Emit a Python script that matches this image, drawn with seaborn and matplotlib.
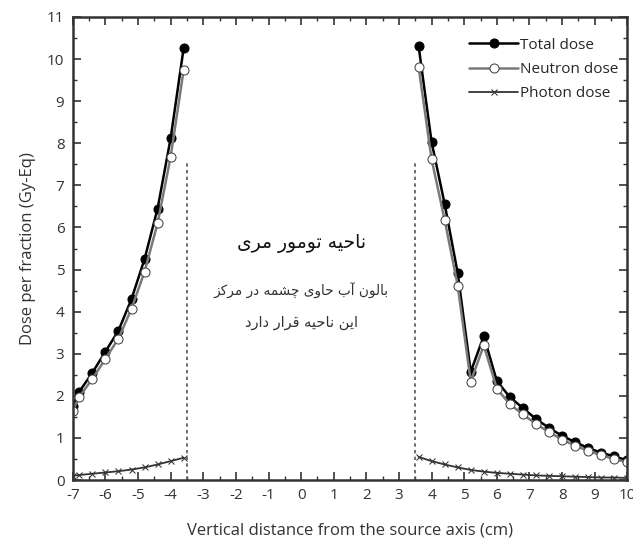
import numpy as np
import pandas as pd
import matplotlib
matplotlib.use("Agg")
import matplotlib.pyplot as plt
import seaborn as sns
from matplotlib.ticker import MultipleLocator

# left side of the tumour region
x_left = [-7.0, -6.8, -6.4, -6.0, -5.6, -5.2, -4.8, -4.4, -4.0, -3.6]
total_left = [1.75, 2.1, 2.55, 3.05, 3.55, 4.3, 5.25, 6.45, 8.12, 10.27]
neutron_left = [1.65, 1.98, 2.4, 2.88, 3.36, 4.07, 4.95, 6.1, 7.68, 9.75]
photon_left = [0.1, 0.12, 0.15, 0.18, 0.21, 0.25, 0.3, 0.37, 0.45, 0.53]

# right side
x_right = [3.6, 4.0, 4.4, 4.8, 5.2, 5.6, 6.0, 6.4, 6.8, 7.2, 7.6, 8.0, 8.4, 8.8, 9.2, 9.6, 10.0]
total_right = [10.32, 8.03, 6.56, 4.92, 2.57, 3.42, 2.35, 1.97, 1.71, 1.45, 1.24, 1.05, 0.9, 0.76, 0.65, 0.56, 0.47]
neutron_right = [9.82, 7.62, 6.18, 4.62, 2.34, 3.2, 2.17, 1.8, 1.56, 1.33, 1.14, 0.96, 0.82, 0.69, 0.59, 0.5, 0.42]
photon_right = [0.55, 0.45, 0.37, 0.3, 0.24, 0.2, 0.17, 0.15, 0.13, 0.11, 0.1, 0.09, 0.08, 0.07, 0.06, 0.06, 0.05]

boundary = [-3.5, 3.5]
boundary_top = 7.6

label_lines = ["ناحیه تومور مری", "بالون آب حاوی چشمه در مرکز", "این ناحیه قرار دارد"]

# Arabic presentation forms: isolated, final, initial, medial
FORMS = {
    "ا": ("\uFE8D", "\uFE8E", None, None),
    "آ": ("\uFE81", "\uFE82", None, None),
    "ب": ("\uFE8F", "\uFE90", "\uFE91", "\uFE92"),
    "ت": ("\uFE95", "\uFE96", "\uFE97", "\uFE98"),
    "ج": ("\uFE9D", "\uFE9E", "\uFE9F", "\uFEA0"),
    "ح": ("\uFEA1", "\uFEA2", "\uFEA3", "\uFEA4"),
    "د": ("\uFEA9", "\uFEAA", None, None),
    "ر": ("\uFEAD", "\uFEAE", None, None),
    "ز": ("\uFEAF", "\uFEB0", None, None),
    "ش": ("\uFEB5", "\uFEB6", "\uFEB7", "\uFEB8"),
    "ق": ("\uFED5", "\uFED6", "\uFED7", "\uFED8"),
    "ل": ("\uFEDD", "\uFEDE", "\uFEDF", "\uFEE0"),
    "م": ("\uFEE1", "\uFEE2", "\uFEE3", "\uFEE4"),
    "ن": ("\uFEE5", "\uFEE6", "\uFEE7", "\uFEE8"),
    "ه": ("\uFEE9", "\uFEEA", "\uFEEB", "\uFEEC"),
    "و": ("\uFEED", "\uFEEE", None, None),
    "ی": ("\uFBFC", "\uFBFD", "\uFBFE", "\uFBFF"),
    "چ": ("\uFB7A", "\uFB7B", "\uFB7C", "\uFB7D"),
    "ک": ("\uFB8E", "\uFB8F", "\uFB90", "\uFB91"),
}


def shape(text):
    out = []
    for i, ch in enumerate(text):
        if ch not in FORMS:
            out.append(ch)
            continue
        prev = text[i - 1] if i > 0 else ""
        nxt = text[i + 1] if i + 1 < len(text) else ""
        join_prev = prev in FORMS and FORMS[prev][2] is not None
        join_next = FORMS[ch][2] is not None and nxt in FORMS
        iso, fin, ini, med = FORMS[ch]
        if join_prev and join_next:
            out.append(med)
        elif join_prev:
            out.append(fin)
        elif join_next:
            out.append(ini)
        else:
            out.append(iso)
    return "".join(out)[::-1]


sns.set_style("ticks")
plt.rcParams["font.family"] = ["Open Sans", "DejaVu Sans"]
plt.rcParams["axes.unicode_minus"] = False

fig = plt.figure(figsize=(6.33, 5.48), dpi=100)
ax = fig.add_axes([0.115, 0.124, 0.876, 0.845])

series = [
    ("Total dose", total_left, total_right, dict(color="black", marker="o", markersize=6.5,
                                                  markerfacecolor="black", markeredgecolor="black", lw=1.8)),
    ("Neutron dose", neutron_left, neutron_right, dict(color="#7a7a7a", marker="o", markersize=6.5,
                                                      markerfacecolor="white", markeredgecolor="#444444", lw=1.8)),
    ("Photon dose", photon_left, photon_right, dict(color="#333333", marker="x", markersize=4,
                                                   markeredgecolor="#333333", lw=1.3)),
]

for name, yl, yr, kw in series:
    sns.lineplot(x=x_left, y=yl, ax=ax, label=name, **kw)
    sns.lineplot(x=x_right, y=yr, ax=ax, **kw)

for xb in boundary:
    ax.plot([xb, xb], [0, boundary_top], color="#555555", ls=(0, (2, 2)), lw=1.2)

ax.text(0, 5.62, shape(label_lines[0]), ha="center", va="center", fontsize=13.5,
        family=["DejaVu Sans"], color="#111111")
ax.text(0, 4.5, shape(label_lines[1]), ha="center", va="center", fontsize=9.8,
        family=["DejaVu Sans"], color="#333333")
ax.text(0, 3.75, shape(label_lines[2]), ha="center", va="center", fontsize=10.5,
        family=["DejaVu Sans"], color="#333333")

ax.set_xlim(-7, 10)
ax.set_ylim(0, 11)
ax.xaxis.set_major_locator(MultipleLocator(1))
ax.xaxis.set_minor_locator(MultipleLocator(0.5))
ax.yaxis.set_major_locator(MultipleLocator(1))
ax.yaxis.set_minor_locator(MultipleLocator(0.5))
ax.tick_params(which="both", direction="in", top=True, right=True, color="#333333")
ax.tick_params(which="major", length=6, width=1.2, labelsize=11, labelcolor="#333333", pad=6)
ax.tick_params(which="minor", length=3, width=1.0)
for sp in ax.spines.values():
    sp.set_linewidth(1.8)
    sp.set_color("#333333")

ax.set_xlabel("Vertical distance from the source axis (cm)", fontsize=12, color="#333333", labelpad=14)
ax.set_ylabel("Dose per fraction (Gy-Eq)", fontsize=12, color="#333333", labelpad=8)

leg = ax.legend(loc="upper right", bbox_to_anchor=(1.0, 0.975), frameon=False, fontsize=11,
                handlelength=3.2, handletextpad=0.1, labelspacing=0.6, borderaxespad=0.2)

fig.savefig("out.png", dpi=100)
